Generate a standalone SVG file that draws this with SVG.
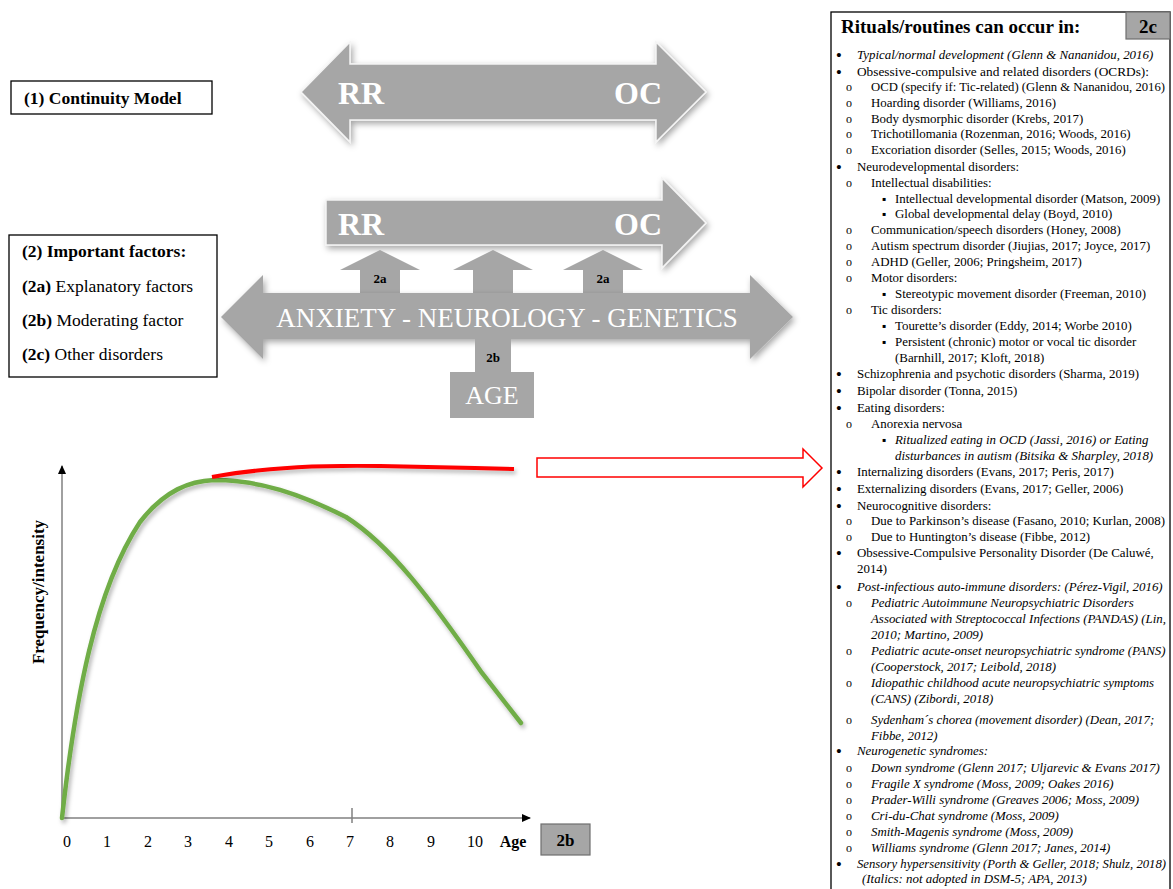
<svg xmlns="http://www.w3.org/2000/svg" width="1173" height="889" viewBox="0 0 1173 889">
<style>
text{font-family:"Liberation Serif","Times New Roman",serif;}
.arr{fill:#a6a6a6;stroke:#f4f4f4;stroke-width:1.5;filter:url(#sh);}
.blk{fill:#a6a6a6;}
.big{font-size:32px;font-weight:bold;fill:#fff;}
.lbl{font-size:13px;font-weight:bold;fill:#000;text-anchor:middle;}
.box{fill:#fff;stroke:#000;stroke-width:1.3;}
.ttl{font-size:17.5px;fill:#000;}
.r{font-size:12.9px;fill:#000;}
.i{font-style:italic;}
.bu{text-anchor:middle;font-size:15px;font-weight:bold;}
.ci{text-anchor:middle;font-size:12px;}
.sq{text-anchor:middle;font-size:12px;}
.ax{stroke:#808080;stroke-width:1.5;fill:none;}
.tk{font-size:16px;fill:#000;text-anchor:middle;}
.gbox{fill:#a6a6a6;stroke:#6f6f6f;stroke-width:1.2;}
</style>
<defs>
<filter id="sh" x="-10%" y="-20%" width="125%" height="150%">
<feDropShadow dx="2" dy="3" stdDeviation="3" flood-color="#000" flood-opacity="0.35"/>
</filter>
<filter id="csh" x="-10%" y="-10%" width="125%" height="125%">
<feDropShadow dx="2" dy="3" stdDeviation="2" flood-color="#000" flood-opacity="0.3"/>
</filter>
<marker id="ah" markerWidth="10" markerHeight="10" refX="8" refY="4" orient="auto" markerUnits="userSpaceOnUse">
<path d="M0,0 L9,4 L0,8 Z" fill="#000"/>
</marker>
</defs>

<g id="continuity-label">
<rect class="box" x="11" y="81" width="201" height="33"/>
<text class="ttl" x="24" y="104" font-weight="bold">(1) Continuity Model</text>
</g>

<g id="arrow-continuity">
<path class="arr" d="M301,92 L350,42 L350,64 L656,64 L656,42 L706,92 L656,142 L656,120 L350,120 L350,142 Z"/>
<text class="big" x="338" y="104">RR</text>
<text class="big" x="614" y="104">OC</text>
</g>

<g id="factors-label">
<rect class="box" x="9" y="235" width="208" height="142"/>
<text class="ttl" x="22" y="257" font-weight="bold">(2) Important factors:</text>
<text class="ttl" x="22" y="292"><tspan font-weight="bold">(2a)</tspan> Explanatory factors</text>
<text class="ttl" x="22" y="326"><tspan font-weight="bold">(2b)</tspan> Moderating factor</text>
<text class="ttl" x="22" y="360"><tspan font-weight="bold">(2c)</tspan> Other disorders</text>
</g>

<g id="arrow-rr-oc">
<path class="arr" d="M326,200 L662,200 L662,178 L706,223 L662,268 L662,245 L326,245 Z"/>
<text class="big" x="338" y="235">RR</text>
<text class="big" x="614" y="235">OC</text>
</g>

<g id="arrow-factors">
<path class="blk" d="M360,293 L360,270 L340,270 L380,250 L420,270 L400,270 L400,293 Z"/>
<path class="blk" d="M473,293 L473,270 L453,270 L493,250 L533,270 L513,270 L513,293 Z"/>
<path class="blk" d="M583,293 L583,270 L563,270 L603,250 L643,270 L623,270 L623,293 Z"/>
<text class="lbl" x="380" y="283">2a</text>
<text class="lbl" x="603" y="283">2a</text>
<path class="blk" filter="url(#sh)" d="M221,317 L263,275 L263,293 L750,293 L750,275 L793,317 L750,359 L750,339 L263,339 L263,359 Z"/>
<text x="507" y="327" font-size="27" fill="#fff" text-anchor="middle">ANXIETY - NEUROLOGY - GENETICS</text>
</g>

<g id="age">
<rect class="blk" x="475" y="339" width="36" height="34"/>
<text class="lbl" x="493" y="362">2b</text>
<rect class="blk" x="450" y="372" width="84" height="46"/>
<text x="492" y="404" font-size="26" fill="#fff" text-anchor="middle">AGE</text>
</g>

<g id="graph">
<line class="ax" x1="62" y1="818" x2="62" y2="466" marker-end="url(#ah)"/>
<line class="ax" x1="62" y1="818" x2="530" y2="818" marker-end="url(#ah)"/>
<line class="ax" x1="352" y1="808" x2="352" y2="823"/>
<text class="tk" x="67" y="847">0</text>
<text class="tk" x="107" y="847">1</text>
<text class="tk" x="148" y="847">2</text>
<text class="tk" x="188" y="847">3</text>
<text class="tk" x="229" y="847">4</text>
<text class="tk" x="269" y="847">5</text>
<text class="tk" x="310" y="847">6</text>
<text class="tk" x="350" y="847">7</text>
<text class="tk" x="390" y="847">8</text>
<text class="tk" x="431" y="847">9</text>
<text class="tk" x="475" y="847">10</text>
<text class="tk" x="513" y="847" font-weight="bold">Age</text>
<text x="0" y="0" font-size="17" font-weight="bold" text-anchor="middle" transform="translate(44,592) rotate(-90)">Frequency/intensity</text>
<path d="M62,818 C75,700 95,590 140,522 C165,490 190,481 214,480 C260,480 300,494 346,517 C390,545 430,598 482,673 L521,723" fill="none" stroke="#70ad47" stroke-width="4.5" stroke-linecap="round" filter="url(#csh)"/>
<path d="M212,477 C260,468 320,465 380,466 S470,468 514,469" fill="none" stroke="#ff0000" stroke-width="4" filter="url(#csh)"/>
<rect class="gbox" x="541" y="824" width="49" height="31"/>
<text x="565.5" y="846" font-size="17" font-weight="bold" text-anchor="middle">2b</text>
</g>

<g id="connectors">
<path d="M537,458 L803,458 L803,449 L822,468 L803,487 L803,477 L537,477 Z" fill="#fff" stroke="#ff0000" stroke-width="1.5"/>
</g>

<g id="other-disorders">
<rect class="box" x="831" y="12" width="339" height="890"/>
<rect class="gbox" x="1126" y="12" width="44" height="27"/>
<text x="1148" y="33" font-size="19" font-weight="bold" text-anchor="middle">2c</text>
<text x="841" y="33" font-size="19" font-weight="bold">Rituals/routines can occur in:</text>
<g class="r">
<text class="bu" x="839" y="60">•</text><text class="i" x="857" y="59">Typical/normal development (Glenn &amp; Nananidou, 2016)</text>
<text class="bu" x="839" y="77">•</text><text x="857" y="76" textLength="292" lengthAdjust="spacingAndGlyphs">Obsessive-compulsive and related disorders (OCRDs):</text>
<text class="ci" x="849" y="91">o</text><text x="871" y="91" textLength="294" lengthAdjust="spacingAndGlyphs">OCD (specify if: Tic-related) (Glenn &amp; Nananidou, 2016)</text>
<text class="ci" x="849" y="107">o</text><text x="871" y="107">Hoarding disorder (Williams, 2016)</text>
<text class="ci" x="849" y="123">o</text><text x="871" y="123">Body dysmorphic disorder (Krebs, 2017)</text>
<text class="ci" x="849" y="138">o</text><text x="871" y="138">Trichotillomania (Rozenman, 2016; Woods, 2016)</text>
<text class="ci" x="849" y="154">o</text><text x="871" y="154">Excoriation disorder (Selles, 2015; Woods, 2016)</text>
<text class="bu" x="839" y="172">•</text><text x="857" y="171">Neurodevelopmental disorders:</text>
<text class="ci" x="849" y="187">o</text><text x="871" y="187">Intellectual disabilities:</text>
<text class="sq" x="884" y="203">▪</text><text x="895" y="203">Intellectual developmental disorder (Matson, 2009)</text>
<text class="sq" x="884" y="218">▪</text><text x="895" y="218">Global developmental delay (Boyd, 2010)</text>
<text class="ci" x="849" y="234">o</text><text x="871" y="234">Communication/speech disorders (Honey, 2008)</text>
<text class="ci" x="849" y="250">o</text><text x="871" y="250">Autism spectrum disorder (Jiujias, 2017; Joyce, 2017)</text>
<text class="ci" x="849" y="266">o</text><text x="871" y="266">ADHD (Geller, 2006; Pringsheim, 2017)</text>
<text class="ci" x="849" y="282">o</text><text x="871" y="282">Motor disorders:</text>
<text class="sq" x="884" y="298">▪</text><text x="895" y="298">Stereotypic movement disorder (Freeman, 2010)</text>
<text class="ci" x="849" y="314">o</text><text x="871" y="314">Tic disorders:</text>
<text class="sq" x="884" y="330">▪</text><text x="895" y="330">Tourette’s disorder (Eddy, 2014; Worbe 2010)</text>
<text class="sq" x="884" y="346">▪</text><text x="895" y="346">Persistent (chronic) motor or vocal tic disorder</text>
<text x="895" y="362">(Barnhill, 2017; Kloft, 2018)</text>
<text class="bu" x="839" y="379">•</text><text x="857" y="378">Schizophrenia and psychotic disorders (Sharma, 2019)</text>
<text class="bu" x="839" y="396">•</text><text x="857" y="395">Bipolar disorder (Tonna, 2015)</text>
<text class="bu" x="839" y="413">•</text><text x="857" y="412">Eating disorders:</text>
<text class="ci" x="849" y="428">o</text><text x="871" y="428">Anorexia nervosa</text>
<text class="sq" x="884" y="444">▪</text><text class="i" x="895" y="444">Ritualized eating in OCD (Jassi, 2016) or Eating</text>
<text class="i" x="895" y="460">disturbances in autism (Bitsika &amp; Sharpley, 2018)</text>
<text class="bu" x="839" y="477">•</text><text x="857" y="476">Internalizing disorders (Evans, 2017; Peris, 2017)</text>
<text class="bu" x="839" y="494">•</text><text x="857" y="493">Externalizing disorders (Evans, 2017; Geller, 2006)</text>
<text class="bu" x="839" y="511">•</text><text x="857" y="510">Neurocognitive disorders:</text>
<text class="ci" x="849" y="525">o</text><text x="871" y="525">Due to Parkinson’s disease (Fasano, 2010; Kurlan, 2008)</text>
<text class="ci" x="849" y="541">o</text><text x="871" y="541">Due to Huntington’s disease (Fibbe, 2012)</text>
<text class="bu" x="839" y="558">•</text><text x="857" y="557">Obsessive-Compulsive Personality Disorder (De Caluwé,</text>
<text x="857" y="573">2014)</text>
<text class="bu" x="839" y="592">•</text><text class="i" x="857" y="591">Post-infectious auto-immune disorders: (Pérez-Vigil, 2016)</text>
<text class="ci" x="849" y="607">o</text><text class="i" x="871" y="607">Pediatric Autoimmune Neuropsychiatric Disorders</text>
<text class="i" x="871" y="623">Associated with Streptococcal Infections (PANDAS) (Lin,</text>
<text class="i" x="871" y="639">2010; Martino, 2009)</text>
<text class="ci" x="849" y="655">o</text><text class="i" x="871" y="655">Pediatric acute-onset neuropsychiatric syndrome (PANS)</text>
<text class="i" x="871" y="671">(Cooperstock, 2017; Leibold, 2018)</text>
<text class="ci" x="849" y="687">o</text><text class="i" x="871" y="687">Idiopathic childhood acute neuropsychiatric symptoms</text>
<text class="i" x="871" y="703">(CANS) (Zibordi, 2018)</text>
<text class="ci" x="849" y="724">o</text><text class="i" x="871" y="724">Sydenham´s chorea (movement disorder) (Dean, 2017;</text>
<text class="i" x="871" y="740">Fibbe, 2012)</text>
<text class="bu" x="839" y="756">•</text><text class="i" x="857" y="755">Neurogenetic syndromes:</text>
<text class="ci" x="849" y="772">o</text><text class="i" x="871" y="772">Down syndrome (Glenn 2017; Uljarevic &amp; Evans 2017)</text>
<text class="ci" x="849" y="788">o</text><text class="i" x="871" y="788">Fragile X syndrome (Moss, 2009; Oakes 2016)</text>
<text class="ci" x="849" y="804">o</text><text class="i" x="871" y="804">Prader-Willi syndrome (Greaves 2006; Moss, 2009)</text>
<text class="ci" x="849" y="820">o</text><text class="i" x="871" y="820">Cri-du-Chat syndrome (Moss, 2009)</text>
<text class="ci" x="849" y="836">o</text><text class="i" x="871" y="836">Smith-Magenis syndrome (Moss, 2009)</text>
<text class="ci" x="849" y="852">o</text><text class="i" x="871" y="852">Williams syndrome (Glenn 2017; Janes, 2014)</text>
<text class="bu" x="839" y="869">•</text><text class="i" x="857" y="868" textLength="309" lengthAdjust="spacingAndGlyphs">Sensory hypersensitivity (Porth &amp; Geller, 2018; Shulz, 2018)</text>
<text class="i" x="862" y="883">(Italics: not adopted in DSM-5; APA, 2013)</text>
</g>
</g>
</svg>
